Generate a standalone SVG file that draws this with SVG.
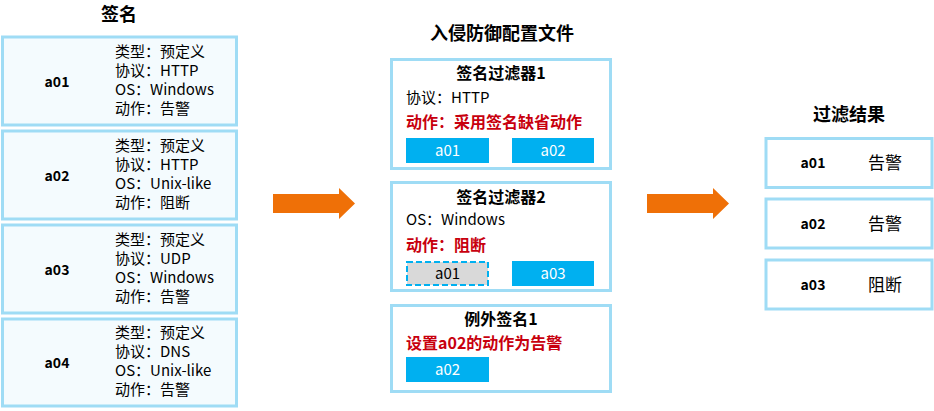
<svg xmlns="http://www.w3.org/2000/svg" width="934" height="411" viewBox="0 0 934 411">
<style>
text{font-family:"Microsoft YaHei","Noto Sans CJK SC","Liberation Sans",sans-serif;fill:#000}
.sig{fill:#f4fbfe;stroke:#9fdcf5;stroke-width:3}
.box{fill:#fff;stroke:#9fdcf5;stroke-width:3}
.hd{font-size:18px;font-weight:bold;text-anchor:middle}
.lbl{font-size:14px;font-weight:bold;text-anchor:middle}
.det{font-size:15px}
.ft{font-size:16px;font-weight:bold;text-anchor:middle}
.red{font-size:16px;font-weight:bold;fill:#c8000e}
.btn{fill:#00b0f0}
.btxt{font-size:15px;fill:#fff;text-anchor:middle}
.res{font-size:17px;text-anchor:middle}
.arr{fill:#ef7007}
</style>
<text class="hd" x="119" y="21">签名</text>
<text class="hd" x="502" y="40">入侵防御配置文件</text>
<text class="hd" x="849" y="121">过滤结果</text>

<g id="sig-a01">
<rect class="sig" x="2.5" y="37" width="234" height="88"/>
<text class="lbl" x="57" y="87">a01</text>
<text class="det" x="115" y="57">类型：预定义</text>
<text class="det" x="115" y="76">协议：HTTP</text>
<text class="det" x="115" y="95">OS：Windows</text>
<text class="det" x="115" y="114">动作：告警</text>
</g>
<g id="sig-a02">
<rect class="sig" x="2.5" y="131" width="234" height="88"/>
<text class="lbl" x="57" y="181">a02</text>
<text class="det" x="115" y="151">类型：预定义</text>
<text class="det" x="115" y="170">协议：HTTP</text>
<text class="det" x="115" y="189">OS：Unix-like</text>
<text class="det" x="115" y="208">动作：阻断</text>
</g>
<g id="sig-a03">
<rect class="sig" x="2.5" y="225" width="234" height="88"/>
<text class="lbl" x="57" y="275">a03</text>
<text class="det" x="115" y="245">类型：预定义</text>
<text class="det" x="115" y="264">协议：UDP</text>
<text class="det" x="115" y="283">OS：Windows</text>
<text class="det" x="115" y="302">动作：告警</text>
</g>
<g id="sig-a04">
<rect class="sig" x="2.5" y="319" width="234" height="87"/>
<text class="lbl" x="57" y="368">a04</text>
<text class="det" x="115" y="338">类型：预定义</text>
<text class="det" x="115" y="357">协议：DNS</text>
<text class="det" x="115" y="376">OS：Unix-like</text>
<text class="det" x="115" y="395">动作：告警</text>
</g>

<g id="filter1">
<rect class="box" x="391.5" y="59.5" width="219" height="109"/>
<text class="ft" x="501" y="79">签名过滤器1</text>
<text class="det" x="406" y="103">协议：HTTP</text>
<text class="red" x="406" y="128">动作：采用签名缺省动作</text>
<rect class="btn" x="406" y="138" width="83" height="25"/>
<text class="btxt" x="447.5" y="156">a01</text>
<rect class="btn" x="512" y="138" width="82" height="25"/>
<text class="btxt" x="553" y="156">a02</text>
</g>
<g id="filter2">
<rect class="box" x="391.5" y="182.5" width="219" height="108"/>
<text class="ft" x="501" y="203">签名过滤器2</text>
<text class="det" x="406" y="225">OS：Windows</text>
<text class="red" x="406" y="251">动作：阻断</text>
<rect x="407" y="262" width="81" height="23" fill="#d9d9d9" stroke="#00b0f0" stroke-width="2" stroke-dasharray="6,3"/>
<text class="btxt" x="447.5" y="279" style="fill:#000">a01</text>
<rect class="btn" x="512" y="261" width="82" height="25"/>
<text class="btxt" x="553" y="279">a03</text>
</g>
<g id="exception1">
<rect class="box" x="391.5" y="305.5" width="219" height="86"/>
<text class="ft" x="501" y="325">例外签名1</text>
<text class="red" x="406" y="349">设置a02的动作为告警</text>
<rect class="btn" x="406" y="357" width="83" height="25"/>
<text class="btxt" x="447.5" y="375">a02</text>
</g>

<g id="res-a01">
<rect class="box" x="766" y="138.5" width="166" height="49"/>
<text class="lbl" x="813" y="168">a01</text>
<text class="res" x="885" y="169">告警</text>
</g>
<g id="res-a02">
<rect class="box" x="766" y="199" width="166" height="49"/>
<text class="lbl" x="813" y="229">a02</text>
<text class="res" x="885" y="230">告警</text>
</g>
<g id="res-a03">
<rect class="box" x="766" y="260" width="166" height="49"/>
<text class="lbl" x="813" y="290">a03</text>
<text class="res" x="885" y="291">阻断</text>
</g>

<g id="connectors">
<polygon class="arr" points="273,194 339,194 339,188 355,203.5 339,219 339,213 273,213"/>
<polygon class="arr" points="647,194 713,194 713,188 729,203.5 713,219 713,213 647,213"/>
</g>
</svg>
